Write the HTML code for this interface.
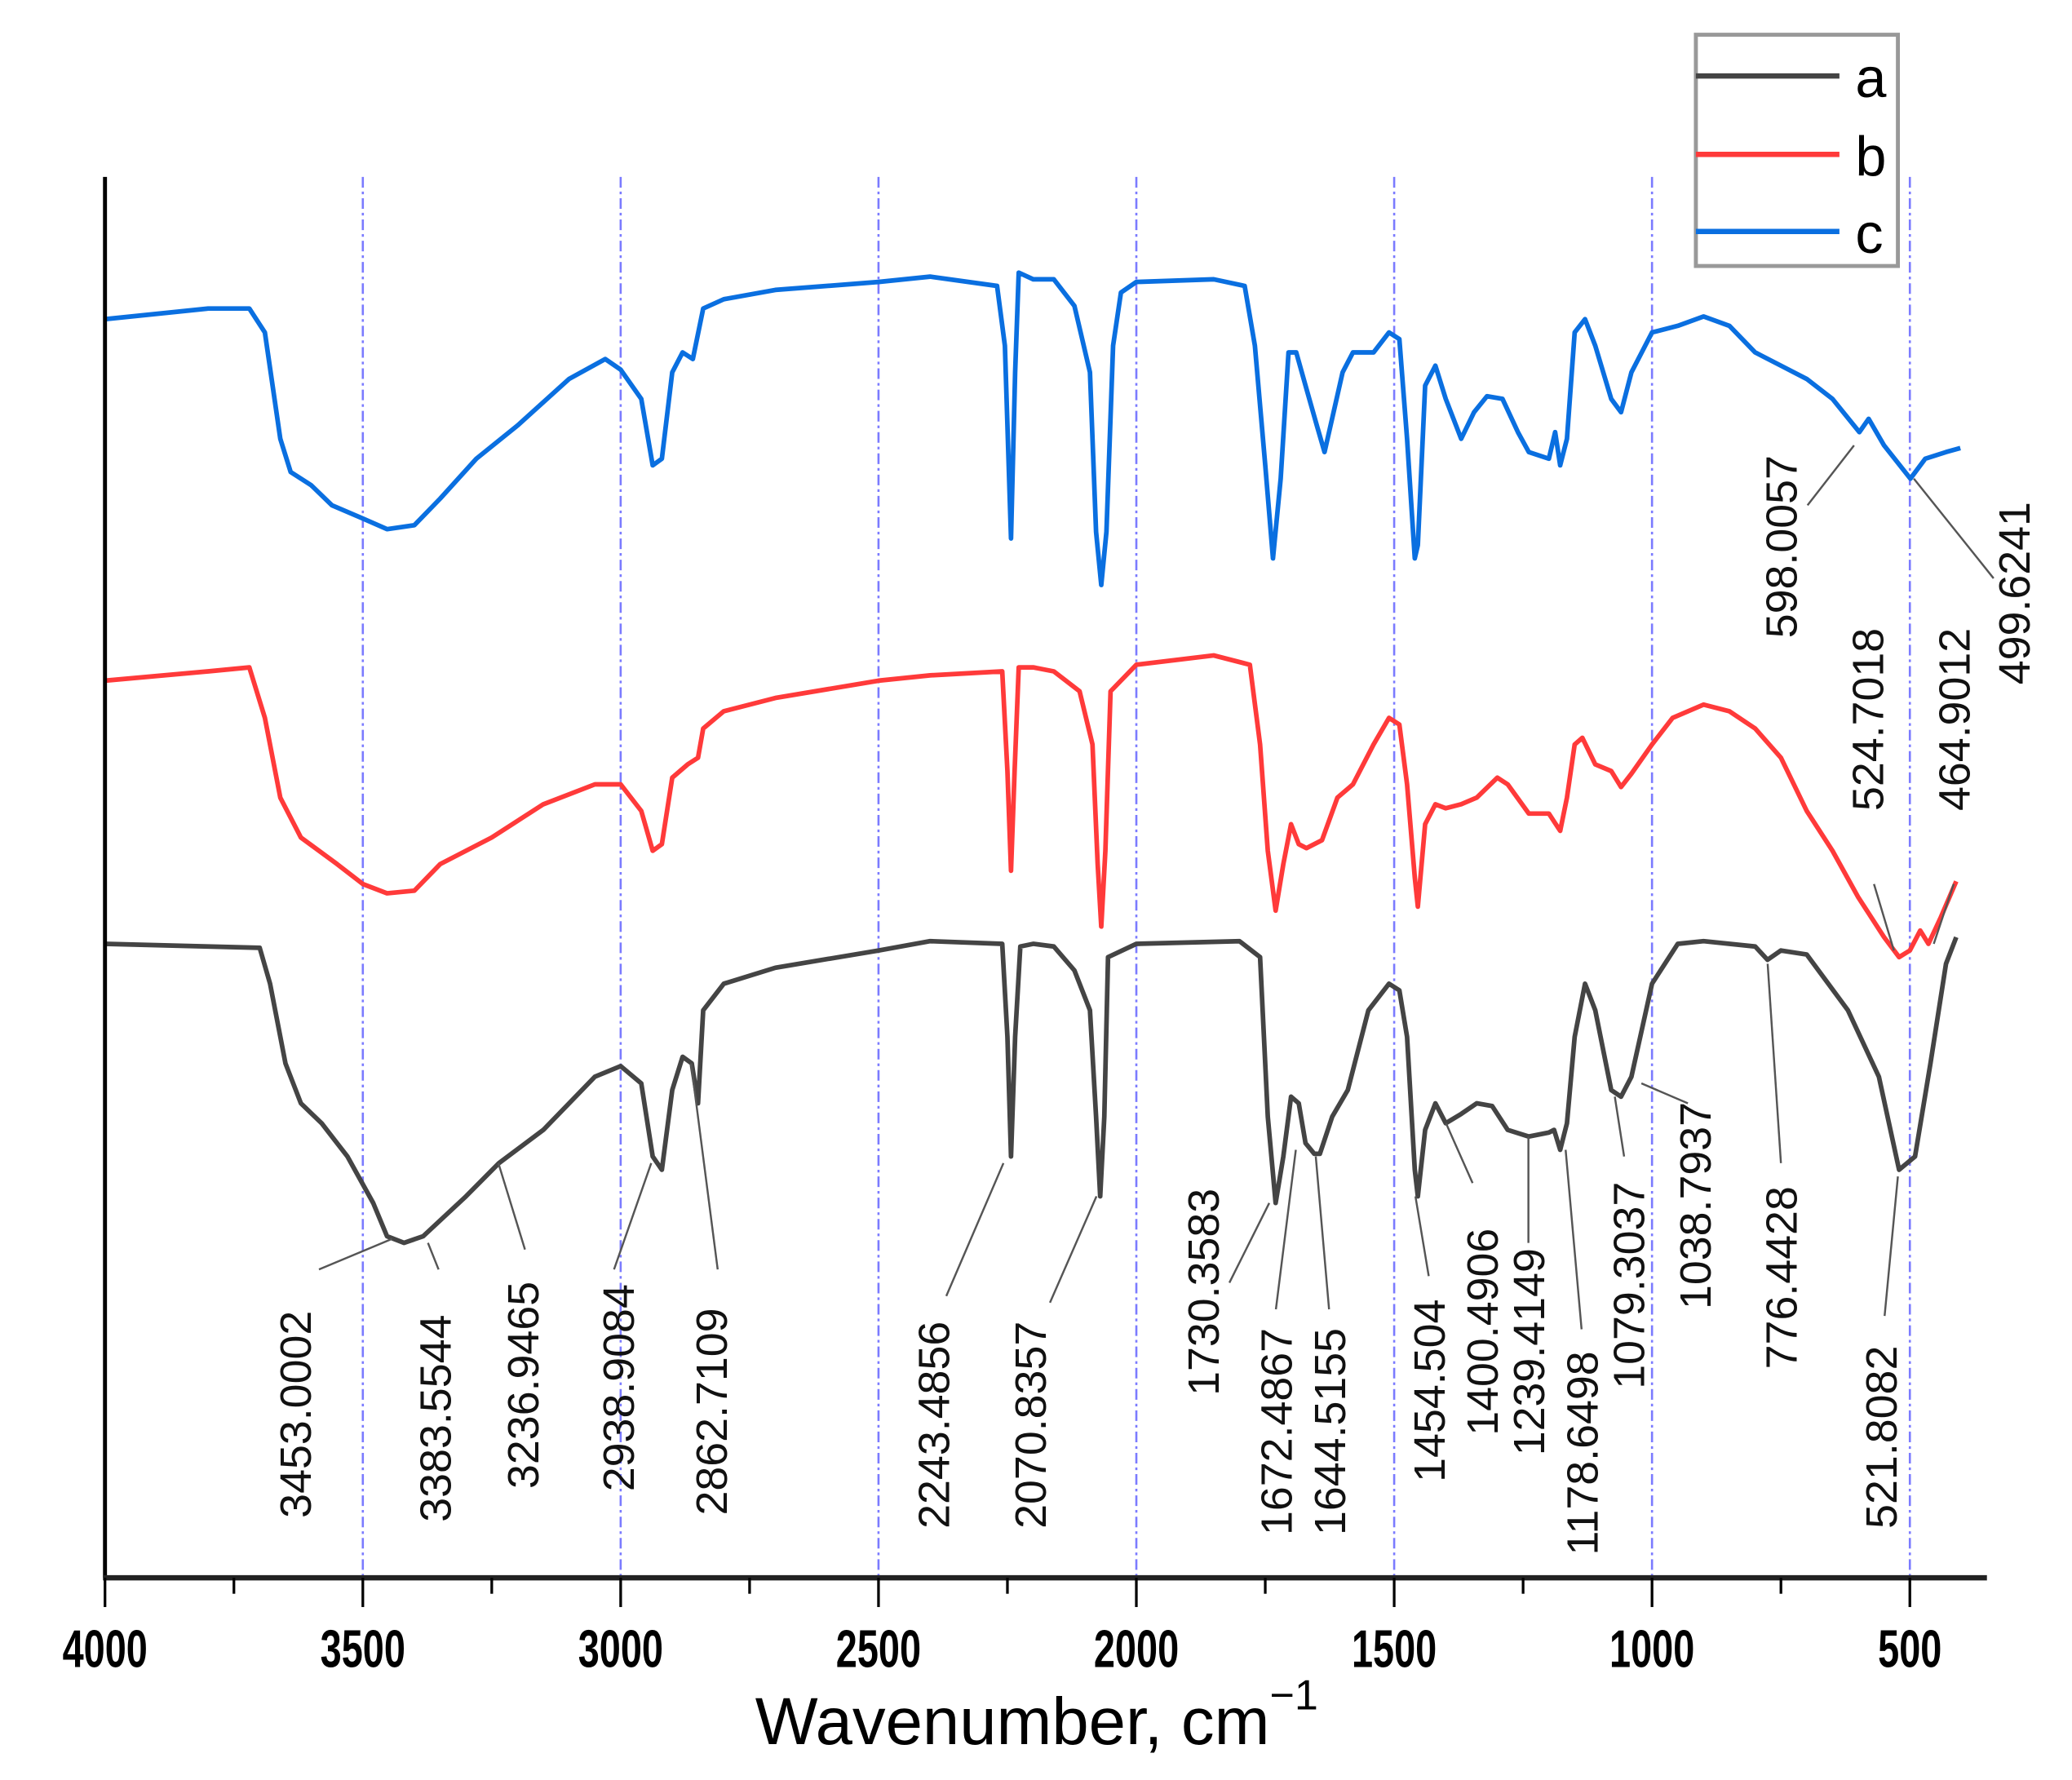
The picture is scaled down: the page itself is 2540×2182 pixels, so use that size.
<!DOCTYPE html>
<html><head><meta charset="utf-8">
<style>
html,body{margin:0;padding:0;background:#fff;}
svg{display:block;font-family:"Liberation Sans",Arial,sans-serif;}
</style></head>
<body>
<svg id="chart" width="2540" height="2182" viewBox="0 0 1559 1339" xmlns="http://www.w3.org/2000/svg">
<g id="grid"></g>
<g id="series"></g>
<g id="annot"></g>
<g id="axes"></g>
<text x="780" y="1312" font-size="50" text-anchor="middle" fill="#000">Wavenumber, cm<tspan font-size="32" dy="-26">−1</tspan></text>
<g>
<rect x="1276" y="26" width="152" height="174" fill="#fff" stroke="#999" stroke-width="3"/>
<line x1="1276" y1="57" x2="1384" y2="57" stroke="#444" stroke-width="4"/>
<text x="1396" y="73" font-size="42">a</text>
<line x1="1276" y1="116" x2="1384" y2="116" stroke="#ff3a3a" stroke-width="4"/>
<text x="1396" y="132" font-size="42">b</text>
<line x1="1276" y1="174" x2="1384" y2="174" stroke="#0a6fe0" stroke-width="4"/>
<text x="1396" y="190" font-size="42">c</text>
</g>
</svg>
<script>
const NS="http://www.w3.org/2000/svg";
// data (wavenumber, cm-1 ; relative transmittance, offset per trace)
const wnA=[4000,3800,3700,3680,3650,3620,3580,3530,3480,3453,3420,3383,3300,3236,3150,3050,3000,2960,2938,2920,2900,2880,2862,2850,2840,2800,2700,2500,2400,2260,2250,2243,2235,2225,2200,2160,2120,2090,2078,2070,2062,2055,2000,1800,1760,1745,1730,1715,1700,1685,1672,1655,1644,1620,1590,1550,1510,1490,1475,1460,1454,1440,1420,1400,1370,1340,1310,1280,1239,1200,1190,1178,1165,1150,1130,1110,1079,1060,1040,1000,950,900,800,776,750,700,620,560,521,490,460,430,410];
const tA=[47.7,47.5,47.4,44.7,38.7,35.7,34.2,31.7,28.2,25.7,25.2,25.7,28.7,31.2,33.7,37.7,38.5,37.2,31.7,30.7,36.7,39.2,38.7,35.7,42.7,44.7,45.9,47.2,47.9,47.7,40.7,31.7,40.7,47.5,47.7,47.5,45.7,42.7,34.7,28.7,34.7,46.7,47.7,47.9,46.7,34.7,28.2,31.7,36.2,35.7,32.7,31.9,31.9,34.7,36.7,42.7,44.7,44.2,40.7,30.7,28.7,33.7,35.7,34.2,34.9,35.7,35.5,33.7,33.2,33.5,33.7,32.2,34.2,40.7,44.7,42.7,36.7,36.2,37.7,44.7,47.7,47.9,47.5,46.5,47.2,46.9,42.7,37.7,30.7,31.7,38.7,46.2,48.2];
const wnB=[4000,3800,3720,3690,3660,3620,3550,3500,3453,3400,3350,3250,3150,3050,3000,2960,2938,2920,2900,2870,2850,2840,2800,2700,2500,2400,2260,2250,2243,2236,2228,2200,2160,2110,2085,2075,2068,2060,2050,2000,1850,1780,1760,1745,1730,1715,1700,1685,1670,1640,1610,1580,1540,1510,1490,1475,1460,1454,1440,1420,1400,1370,1340,1300,1280,1239,1200,1178,1165,1150,1135,1110,1079,1060,1040,1000,960,900,850,800,750,700,650,600,550,521,500,480,464,440,410];
const tB=[67.5,68.2,68.5,64.7,58.7,55.7,53.7,52.2,51.5,51.7,53.7,55.7,58.2,59.7,59.7,57.7,54.7,55.2,60.2,61.2,61.7,63.9,65.2,66.2,67.5,67.9,68.2,60.7,53.2,60.7,68.5,68.5,68.2,66.7,62.7,53.7,49.0,54.7,66.7,68.7,69.4,68.7,62.7,54.7,50.2,53.7,56.7,55.2,54.9,55.5,58.7,59.7,62.7,64.7,64.2,59.7,52.7,50.5,56.7,58.2,57.9,58.2,58.7,60.2,59.7,57.5,57.5,56.2,58.7,62.7,63.2,61.2,60.7,59.5,60.5,62.7,64.7,65.7,65.2,63.9,61.7,57.7,54.7,51.2,48.2,46.7,47.2,48.7,47.7,49.7,52.4];
const wnC=[4000,3800,3720,3690,3660,3640,3600,3560,3500,3453,3400,3350,3280,3200,3100,3030,3000,2960,2938,2920,2900,2880,2860,2840,2800,2700,2500,2400,2270,2255,2243,2235,2228,2200,2160,2120,2090,2078,2068,2058,2045,2030,2000,1850,1790,1770,1750,1735,1720,1705,1690,1672,1650,1635,1600,1580,1540,1510,1490,1475,1460,1454,1440,1420,1400,1370,1345,1320,1290,1260,1239,1200,1188,1178,1165,1150,1130,1110,1079,1060,1040,1000,950,900,850,800,750,700,650,598,580,550,499,470,430,402];
const tC=[94.7,95.5,95.5,93.7,85.7,83.2,82.2,80.7,79.7,78.9,79.2,81.2,84.2,86.7,90.2,91.7,90.9,88.7,83.7,84.2,90.7,92.2,91.7,95.5,96.2,96.9,97.5,97.9,97.2,92.7,78.2,90.7,98.2,97.7,97.7,95.7,90.7,78.7,74.7,78.7,92.7,96.7,97.5,97.7,97.2,92.7,83.7,76.7,82.7,92.2,92.2,89.7,86.7,84.7,90.7,92.2,92.2,93.7,93.2,85.7,76.7,77.7,89.7,91.2,88.7,85.7,87.7,88.9,88.7,86.2,84.7,84.2,86.2,83.7,85.7,93.7,94.7,92.7,88.7,87.7,90.7,93.7,94.2,94.9,94.2,92.2,91.2,90.2,88.7,86.2,87.2,85.2,82.7,84.2,84.7,85.0];
const seriesNames=["a","b","c"];
const seriesColors=["#444444","#ff3a3a","#0a6fe0"];
const xTicks=[4000,3500,3000,2500,2000,1500,1000,500];
const xMinor=[3750,3250,2750,2250,1750,1250,750];
const gridTicks=[3500,3000,2500,2000,1500,1000,500];
const peakLabels=["3453.0002","3383.5544","3236.9465","2938.9084","2862.7109","2243.4856","2070.8357","1730.3583","1672.4867","1644.5155","1454.504","1400.4906","1239.4149","1178.6498","1079.3037","1038.7937","776.4428","521.8082","598.0057","499.6241","524.7018","464.9012"];

const X0=79,Y0=1187,YTOP=133,XEND=1495;
function xs(w){return X0+(4000-w)*194/500;}
function ys(t){return Y0-t*10;}
function mk(tag,attrs,parent){const e=document.createElementNS(NS,tag);for(const k in attrs)e.setAttribute(k,attrs[k]);parent.appendChild(e);return e;}

const grid=document.getElementById('grid');
gridTicks.forEach(w=>{
  const l=mk('line',{x1:xs(w),x2:xs(w),y1:YTOP,y2:Y0,stroke:'#7b7bff','stroke-width':1.6,'stroke-dasharray':'8 3 2 3'},grid);
  
  
});

const ser=document.getElementById('series');
[[wnA,tA],[wnB,tB],[wnC,tC]].forEach((s,i)=>{
  const d=s[0].map((w,j)=>(j?'L':'M')+xs(w).toFixed(1)+','+ys(s[1][j]).toFixed(1)).join(' ');
  const p=mk('path',{d:d,fill:'none',stroke:seriesColors[i],'stroke-width':3.5,'stroke-linejoin':'round'},ser);
  
  
});

// annotation layout: [textX, textBottomY, lx1, ly1, lx2, ly2]
const annPos=[[222,1142,240,955,295,932],[327,1145,322,935,330,955],[393,1120,375,875,395,940],[465,1122,490,875,462,955],[535,1140,520,800,540,955],[702,1150,755,875,712,975],[775,1150,825,900,790,980],[905,1050,955,905,925,965],[960,1155,975,865,960,985],[1000,1155,990,870,1000,985],[1075,1115,1065,900,1075,960],[1115,1080,1088,845,1108,890],[1150,1095,1150,855,1150,935],[1190,1170,1178,865,1190,1000],[1225,1045,1215,825,1222,870],[1275,985,1235,815,1270,830],[1340,1030,1330,725,1340,875],[1415,1150,1428,885,1418,990],[1340,480,1395,335,1360,380],[1515,515,1440,360,1500,435],[1405,610,1425,715,1410,665],[1470,610,1455,710,1470,665]];
const an=document.getElementById('annot');
peakLabels.forEach((lab,i)=>{
  const p=annPos[i];
  const l=mk('line',{x1:p[2],y1:p[3],x2:p[4],y2:p[5],stroke:'#555','stroke-width':1.5},an);
  
  
  const t=mk('text',{x:0,y:0,'font-size':33,fill:'#111',transform:'translate('+(p[0]+12)+','+p[1]+') rotate(-90)'},an);
  t.textContent=lab;
  
  
});

const ax=document.getElementById('axes');
const ya=mk('line',{x1:X0,x2:X0,y1:YTOP,y2:Y0,stroke:'#000','stroke-width':3},ax);


const xa=mk('line',{x1:X0-1.5,x2:XEND,y1:Y0,y2:Y0,stroke:'#222','stroke-width':4},ax);


xTicks.forEach(w=>{
  const t=mk('line',{x1:xs(w),x2:xs(w),y1:Y0,y2:Y0+22,stroke:'#000','stroke-width':2},ax);
  
  
  const lb=mk('text',{x:xs(w),y:Y0+67,'font-size':40,'font-weight':'bold','text-anchor':'middle',fill:'#000',textLength:64,lengthAdjust:'spacingAndGlyphs'},ax);
  if(w<1000) lb.setAttribute('textLength',48);
  lb.textContent=w;
  
  
});
xMinor.forEach(w=>{
  const t=mk('line',{x1:xs(w),x2:xs(w),y1:Y0,y2:Y0+12,stroke:'#000','stroke-width':2},ax);
  
  
});
</script>
</body></html>
